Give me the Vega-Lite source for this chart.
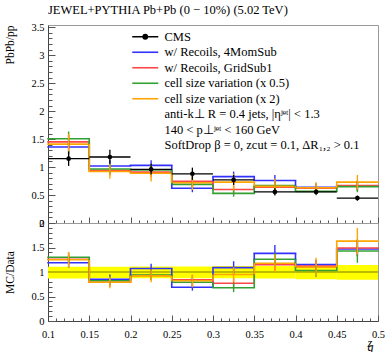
{
  "$schema": "https://vega.github.io/schema/vega-lite/v6.json",
  "padding": {"left": 4, "top": 3, "right": 3, "bottom": 0},
  "spacing": 0,
  "bounds": "flush",
  "config": {
    "view": {"stroke": "#9a9a9a", "strokeWidth": 1},
    "axis": {"labelFont": "Liberation Serif", "labelFontSize": 10.5, "labelColor": "#000", "titleFont": "Liberation Serif", "titleFontSize": 11.5, "titleFontWeight": "normal", "titleColor": "#000", "domainColor": "#444", "tickColor": "#555", "grid": false, "labelOverlap": false, "labelFlush": false},
    "legend": {"labelFont": "Liberation Serif", "labelFontSize": 12.5, "labelColor": "#000", "labelLimit": 400}
  },
  "datasets": {
    "cms": [
      {"s": "CMS", "x0": 0.1, "x1": 0.15, "xc": 0.125, "v": 1.15, "lo": 1.02, "hi": 1.28},
      {"s": "CMS", "x0": 0.15, "x1": 0.2, "xc": 0.175, "v": 1.18, "lo": 1.06, "hi": 1.31},
      {"s": "CMS", "x0": 0.2, "x1": 0.25, "xc": 0.225, "v": 0.96, "lo": 0.87, "hi": 1.06},
      {"s": "CMS", "x0": 0.25, "x1": 0.3, "xc": 0.275, "v": 0.88, "lo": 0.77, "hi": 0.99},
      {"s": "CMS", "x0": 0.3, "x1": 0.35, "xc": 0.325, "v": 0.77, "lo": 0.68, "hi": 0.86},
      {"s": "CMS", "x0": 0.35, "x1": 0.4, "xc": 0.375, "v": 0.555, "lo": 0.49, "hi": 0.62},
      {"s": "CMS", "x0": 0.4, "x1": 0.45, "xc": 0.425, "v": 0.555, "lo": 0.51, "hi": 0.6},
      {"s": "CMS", "x0": 0.45, "x1": 0.5, "xc": 0.475, "v": 0.445, "lo": 0.4, "hi": 0.49}
    ],
    "band": [
      {"x0": 0.1, "x1": 0.15, "lo": 0.865, "hi": 1.105},
      {"x0": 0.15, "x1": 0.2, "lo": 0.87, "hi": 1.105},
      {"x0": 0.2, "x1": 0.25, "lo": 0.87, "hi": 1.11},
      {"x0": 0.25, "x1": 0.3, "lo": 0.87, "hi": 1.11},
      {"x0": 0.3, "x1": 0.35, "lo": 0.87, "hi": 1.12},
      {"x0": 0.35, "x1": 0.4, "lo": 0.865, "hi": 1.125},
      {"x0": 0.4, "x1": 0.45, "lo": 0.85, "hi": 1.12},
      {"x0": 0.45, "x1": 0.5, "lo": 0.84, "hi": 1.145}
    ],
    "mc": [
      {"s": "w/ Recoils, 4MomSub", "x0": 0.1, "x1": 0.15, "xc": 0.125, "v": 1.36, "lo": 1.24, "hi": 1.48},
      {"s": "w/ Recoils, 4MomSub", "x0": 0.15, "x1": 0.2, "xc": 0.175, "v": 1.02, "lo": 0.92, "hi": 1.12},
      {"s": "w/ Recoils, 4MomSub", "x0": 0.2, "x1": 0.25, "xc": 0.225, "v": 1.03, "lo": 0.94, "hi": 1.12},
      {"s": "w/ Recoils, 4MomSub", "x0": 0.25, "x1": 0.3, "xc": 0.275, "v": 0.62, "lo": 0.55, "hi": 0.69},
      {"s": "w/ Recoils, 4MomSub", "x0": 0.3, "x1": 0.35, "xc": 0.325, "v": 0.83, "lo": 0.74, "hi": 0.92},
      {"s": "w/ Recoils, 4MomSub", "x0": 0.35, "x1": 0.4, "xc": 0.375, "v": 0.76, "lo": 0.66, "hi": 0.86},
      {"s": "w/ Recoils, 4MomSub", "x0": 0.4, "x1": 0.45, "xc": 0.425, "v": 0.64, "lo": 0.57, "hi": 0.71},
      {"s": "w/ Recoils, 4MomSub", "x0": 0.45, "x1": 0.5, "xc": 0.475, "v": 0.66, "lo": 0.58, "hi": 0.74},
      {"s": "w/ Recoils, GridSub1", "x0": 0.1, "x1": 0.15, "xc": 0.125, "v": 1.45, "lo": 1.33, "hi": 1.57},
      {"s": "w/ Recoils, GridSub1", "x0": 0.15, "x1": 0.2, "xc": 0.175, "v": 0.94, "lo": 0.85, "hi": 1.03},
      {"s": "w/ Recoils, GridSub1", "x0": 0.2, "x1": 0.25, "xc": 0.225, "v": 0.91, "lo": 0.82, "hi": 1.0},
      {"s": "w/ Recoils, GridSub1", "x0": 0.25, "x1": 0.3, "xc": 0.275, "v": 0.745, "lo": 0.655, "hi": 0.835},
      {"s": "w/ Recoils, GridSub1", "x0": 0.3, "x1": 0.35, "xc": 0.325, "v": 0.6, "lo": 0.53, "hi": 0.67},
      {"s": "w/ Recoils, GridSub1", "x0": 0.35, "x1": 0.4, "xc": 0.375, "v": 0.64, "lo": 0.57, "hi": 0.71},
      {"s": "w/ Recoils, GridSub1", "x0": 0.4, "x1": 0.45, "xc": 0.425, "v": 0.62, "lo": 0.55, "hi": 0.69},
      {"s": "w/ Recoils, GridSub1", "x0": 0.45, "x1": 0.5, "xc": 0.475, "v": 0.67, "lo": 0.58, "hi": 0.76},
      {"s": "cell size variation (x 0.5)", "x0": 0.1, "x1": 0.15, "xc": 0.125, "v": 1.505, "lo": 1.375, "hi": 1.635},
      {"s": "cell size variation (x 0.5)", "x0": 0.15, "x1": 0.2, "xc": 0.175, "v": 0.965, "lo": 0.875, "hi": 1.055},
      {"s": "cell size variation (x 0.5)", "x0": 0.2, "x1": 0.25, "xc": 0.225, "v": 0.95, "lo": 0.86, "hi": 1.04},
      {"s": "cell size variation (x 0.5)", "x0": 0.25, "x1": 0.3, "xc": 0.275, "v": 0.69, "lo": 0.6, "hi": 0.78},
      {"s": "cell size variation (x 0.5)", "x0": 0.3, "x1": 0.35, "xc": 0.325, "v": 0.53, "lo": 0.47, "hi": 0.59},
      {"s": "cell size variation (x 0.5)", "x0": 0.35, "x1": 0.4, "xc": 0.375, "v": 0.67, "lo": 0.59, "hi": 0.75},
      {"s": "cell size variation (x 0.5)", "x0": 0.4, "x1": 0.45, "xc": 0.425, "v": 0.565, "lo": 0.495, "hi": 0.635},
      {"s": "cell size variation (x 0.5)", "x0": 0.45, "x1": 0.5, "xc": 0.475, "v": 0.65, "lo": 0.55, "hi": 0.75},
      {"s": "cell size variation (x 2)", "x0": 0.1, "x1": 0.15, "xc": 0.125, "v": 1.41, "lo": 1.22, "hi": 1.6},
      {"s": "cell size variation (x 2)", "x0": 0.15, "x1": 0.2, "xc": 0.175, "v": 0.92, "lo": 0.79, "hi": 1.05},
      {"s": "cell size variation (x 2)", "x0": 0.2, "x1": 0.25, "xc": 0.225, "v": 0.89, "lo": 0.74, "hi": 1.04},
      {"s": "cell size variation (x 2)", "x0": 0.25, "x1": 0.3, "xc": 0.275, "v": 0.72, "lo": 0.59, "hi": 0.85},
      {"s": "cell size variation (x 2)", "x0": 0.3, "x1": 0.35, "xc": 0.325, "v": 0.73, "lo": 0.58, "hi": 0.88},
      {"s": "cell size variation (x 2)", "x0": 0.35, "x1": 0.4, "xc": 0.375, "v": 0.655, "lo": 0.515, "hi": 0.795},
      {"s": "cell size variation (x 2)", "x0": 0.4, "x1": 0.45, "xc": 0.425, "v": 0.63, "lo": 0.53, "hi": 0.73},
      {"s": "cell size variation (x 2)", "x0": 0.45, "x1": 0.5, "xc": 0.475, "v": 0.73, "lo": 0.6, "hi": 0.86}
    ],
    "ratio": [
      {"s": "w/ Recoils, 4MomSub", "x0": 0.1, "x1": 0.15, "xc": 0.125, "r": 1.19, "lo": 1.09, "hi": 1.29},
      {"s": "w/ Recoils, 4MomSub", "x0": 0.15, "x1": 0.2, "xc": 0.175, "r": 0.85, "lo": 0.75, "hi": 0.95},
      {"s": "w/ Recoils, 4MomSub", "x0": 0.2, "x1": 0.25, "xc": 0.225, "r": 1.07, "lo": 0.97, "hi": 1.17},
      {"s": "w/ Recoils, 4MomSub", "x0": 0.25, "x1": 0.3, "xc": 0.275, "r": 0.69, "lo": 0.62, "hi": 0.76},
      {"s": "w/ Recoils, 4MomSub", "x0": 0.3, "x1": 0.35, "xc": 0.325, "r": 1.09, "lo": 0.96, "hi": 1.22},
      {"s": "w/ Recoils, 4MomSub", "x0": 0.35, "x1": 0.4, "xc": 0.375, "r": 1.38, "lo": 1.21, "hi": 1.55},
      {"s": "w/ Recoils, 4MomSub", "x0": 0.4, "x1": 0.45, "xc": 0.425, "r": 1.15, "lo": 1.05, "hi": 1.25},
      {"s": "w/ Recoils, 4MomSub", "x0": 0.45, "x1": 0.5, "xc": 0.475, "r": 1.47, "lo": 1.32, "hi": 1.62},
      {"s": "w/ Recoils, GridSub1", "x0": 0.1, "x1": 0.15, "xc": 0.125, "r": 1.26, "lo": 1.16, "hi": 1.36},
      {"s": "w/ Recoils, GridSub1", "x0": 0.15, "x1": 0.2, "xc": 0.175, "r": 0.79, "lo": 0.7, "hi": 0.88},
      {"s": "w/ Recoils, GridSub1", "x0": 0.2, "x1": 0.25, "xc": 0.225, "r": 0.93, "lo": 0.83, "hi": 1.03},
      {"s": "w/ Recoils, GridSub1", "x0": 0.25, "x1": 0.3, "xc": 0.275, "r": 0.84, "lo": 0.74, "hi": 0.94},
      {"s": "w/ Recoils, GridSub1", "x0": 0.3, "x1": 0.35, "xc": 0.325, "r": 0.77, "lo": 0.67, "hi": 0.87},
      {"s": "w/ Recoils, GridSub1", "x0": 0.35, "x1": 0.4, "xc": 0.375, "r": 1.15, "lo": 1.03, "hi": 1.27},
      {"s": "w/ Recoils, GridSub1", "x0": 0.4, "x1": 0.45, "xc": 0.425, "r": 1.12, "lo": 1.0, "hi": 1.24},
      {"s": "w/ Recoils, GridSub1", "x0": 0.45, "x1": 0.5, "xc": 0.475, "r": 1.49, "lo": 1.32, "hi": 1.66},
      {"s": "cell size variation (x 0.5)", "x0": 0.1, "x1": 0.15, "xc": 0.125, "r": 1.3, "lo": 1.2, "hi": 1.4},
      {"s": "cell size variation (x 0.5)", "x0": 0.15, "x1": 0.2, "xc": 0.175, "r": 0.82, "lo": 0.73, "hi": 0.91},
      {"s": "cell size variation (x 0.5)", "x0": 0.2, "x1": 0.25, "xc": 0.225, "r": 0.94, "lo": 0.84, "hi": 1.04},
      {"s": "cell size variation (x 0.5)", "x0": 0.25, "x1": 0.3, "xc": 0.275, "r": 0.79, "lo": 0.69, "hi": 0.89},
      {"s": "cell size variation (x 0.5)", "x0": 0.3, "x1": 0.35, "xc": 0.325, "r": 0.68, "lo": 0.59, "hi": 0.77},
      {"s": "cell size variation (x 0.5)", "x0": 0.35, "x1": 0.4, "xc": 0.375, "r": 1.26, "lo": 1.13, "hi": 1.39},
      {"s": "cell size variation (x 0.5)", "x0": 0.4, "x1": 0.45, "xc": 0.425, "r": 1.03, "lo": 0.9, "hi": 1.16},
      {"s": "cell size variation (x 0.5)", "x0": 0.45, "x1": 0.5, "xc": 0.475, "r": 1.43, "lo": 1.19, "hi": 1.67},
      {"s": "cell size variation (x 2)", "x0": 0.1, "x1": 0.15, "xc": 0.125, "r": 1.25, "lo": 1.09, "hi": 1.41},
      {"s": "cell size variation (x 2)", "x0": 0.15, "x1": 0.2, "xc": 0.175, "r": 0.79, "lo": 0.67, "hi": 0.91},
      {"s": "cell size variation (x 2)", "x0": 0.2, "x1": 0.25, "xc": 0.225, "r": 0.92, "lo": 0.79, "hi": 1.05},
      {"s": "cell size variation (x 2)", "x0": 0.25, "x1": 0.3, "xc": 0.275, "r": 0.82, "lo": 0.69, "hi": 0.95},
      {"s": "cell size variation (x 2)", "x0": 0.3, "x1": 0.35, "xc": 0.325, "r": 0.95, "lo": 0.8, "hi": 1.1},
      {"s": "cell size variation (x 2)", "x0": 0.35, "x1": 0.4, "xc": 0.375, "r": 1.18, "lo": 1.0, "hi": 1.36},
      {"s": "cell size variation (x 2)", "x0": 0.4, "x1": 0.45, "xc": 0.425, "r": 1.1, "lo": 0.91, "hi": 1.29},
      {"s": "cell size variation (x 2)", "x0": 0.45, "x1": 0.5, "xc": 0.475, "r": 1.63, "lo": 1.36, "hi": 1.9}
    ]
  },
  "resolve": {"scale": {"color": "independent"}, "legend": {"color": "independent"}},
  "vconcat": [
    {
      "width": 330,
      "height": 198,
      "title": {"text": "JEWEL+PYTHIA Pb+Pb (0 − 10%) (5.02 TeV)", "anchor": "start", "frame": "group", "font": "Liberation Serif", "fontSize": 12.5, "fontWeight": "normal", "color": "#000", "offset": 6},
      "resolve": {"axis": {"x": "independent", "y": "independent"}},
      "layer": [
        {
          "data": {"name": "mc"},
          "mark": {"type": "rule", "strokeWidth": 1.6, "strokeCap": "square"},
          "encoding": {
            "x": {"field": "x0", "type": "quantitative", "scale": {"domain": [0.1, 0.5], "nice": false, "zero": false},
              "axis": {"orient": "bottom", "title": null, "labels": false, "tickSize": -6,
                "values": [0.1,0.15,0.2,0.25,0.3,0.35,0.4,0.45,0.5]}},
            "x2": {"field": "x1"},
            "y": {"field": "v", "type": "quantitative", "scale": {"domain": [0, 3.54], "nice": false},
              "axis": {"orient": "left", "title": "PbPb/pp", "titleAnchor": "end", "titlePadding": 15, "format": "~g", "labelPadding": 11, "tickSize": -7,
                "values": [0,0.5,1,1.5,2,2.5,3,3.5]}},
            "color": {"field": "s", "type": "nominal",
              "scale": {"domain": ["CMS", "w/ Recoils, 4MomSub", "w/ Recoils, GridSub1", "cell size variation (x 0.5)", "cell size variation (x 2)", "anti-k⊥ R = 0.4 jets, |ηʲᵉᵗ| < 1.3", "140 < p⊥ʲᵉᵗ < 160 GeV", "SoftDrop β = 0, zcut = 0.1, ΔR₁,₂ > 0.1"],
                "range": ["#000000", "#3232ff", "#ff4646", "#32a032", "#ffa500", "transparent", "transparent", "transparent"]},
              "legend": {"title": null, "orient": "none", "legendX": 91, "legendY": 5.5, "padding": 0, "rowPadding": 2.5,
                "symbolType": "M-2.6,0H2.6", "symbolSize": 100, "symbolStrokeWidth": 1.6, "labelOffset": 13,
                "encode": {
                  "symbols": {"update": {
                    "shape": [{"test": "datum.value === 'CMS'", "value": "M-2.6,0H2.6M-0.42,0A0.42,0.42 0 1 1 0.42,0A0.42,0.42 0 1 1 -0.42,0Z"}, {"value": "M-2.6,0H2.6"}],
                    "fill": [{"test": "datum.value === 'CMS'", "value": "#000000"}, {"value": "transparent"}]}}}}}
          }
        },
        {
          "data": {"name": "mc"},
          "transform": [
            {"window": [{"op": "lead", "field": "v", "as": "vn"}], "groupby": ["s"], "sort": [{"field": "x0", "order": "ascending"}]},
            {"filter": "datum.vn != null"}
          ],
          "mark": {"type": "rule", "strokeWidth": 1.6},
          "encoding": {
            "x": {"field": "x1", "type": "quantitative",
              "axis": {"orient": "bottom", "title": null, "labels": false, "domain": false, "tickSize": -3,
                "values": [0.11,0.12,0.13,0.14,0.16,0.17,0.18,0.19,0.21,0.22,0.23,0.24,0.26,0.27,0.28,0.29,0.31,0.32,0.33,0.34,0.36,0.37,0.38,0.39,0.41,0.42,0.43,0.44,0.46,0.47,0.48,0.49]}},
            "y": {"field": "v", "type": "quantitative",
              "axis": {"orient": "left", "title": null, "labels": false, "domain": false, "tickSize": -4,
                "values": [0.1,0.2,0.3,0.4,0.6,0.7,0.8,0.9,1.1,1.2,1.3,1.4,1.6,1.7,1.8,1.9,2.1,2.2,2.3,2.4,2.6,2.7,2.8,2.9,3.1,3.2,3.3,3.4]}},
            "y2": {"field": "vn"},
            "color": {"field": "s", "type": "nominal"}
          }
        },
        {
          "data": {"name": "mc"},
          "mark": {"type": "rule", "strokeWidth": 1.4},
          "encoding": {
            "x": {"field": "xc", "type": "quantitative", "axis": null},
            "y": {"field": "lo", "type": "quantitative", "axis": null},
            "y2": {"field": "hi"},
            "color": {"field": "s", "type": "nominal"}
          }
        },
        {
          "data": {"name": "cms"},
          "mark": {"type": "rule", "strokeWidth": 1.3},
          "encoding": {
            "x": {"field": "x0", "type": "quantitative", "axis": null},
            "x2": {"field": "x1"},
            "y": {"field": "v", "type": "quantitative", "axis": null},
            "color": {"field": "s", "type": "nominal"}
          }
        },
        {
          "data": {"name": "cms"},
          "mark": {"type": "rule", "strokeWidth": 1.3},
          "encoding": {
            "x": {"field": "xc", "type": "quantitative", "axis": null},
            "y": {"field": "lo", "type": "quantitative", "axis": null},
            "y2": {"field": "hi"},
            "color": {"field": "s", "type": "nominal"}
          }
        },
        {
          "data": {"name": "cms"},
          "mark": {"type": "point", "filled": true, "size": 22, "opacity": 1},
          "encoding": {
            "x": {"field": "xc", "type": "quantitative", "axis": null},
            "y": {"field": "v", "type": "quantitative", "axis": null},
            "color": {"field": "s", "type": "nominal"}
          }
        }
      ]
    },
    {
      "width": 330,
      "height": 98,
      "resolve": {"axis": {"x": "independent", "y": "independent"}},
      "layer": [
        {
          "data": {"name": "band"},
          "mark": {"type": "rect", "color": "#ffff00"},
          "encoding": {
            "x": {"field": "x0", "type": "quantitative", "scale": {"domain": [0.1, 0.5], "nice": false, "zero": false},
              "axis": {"orient": "bottom", "title": ["z", "  g"], "titleFontStyle": "italic", "titleFontSize": 12, "titleAnchor": "end", "titleAlign": "left", "titleBaseline": "alphabetic", "titleX": 319, "titleY": 25, "titleLineHeight": 4, "format": "~g", "labelPadding": 14, "tickSize": -6,
                "values": [0.1,0.15,0.2,0.25,0.3,0.35,0.4,0.45,0.5]}},
            "x2": {"field": "x1"},
            "y": {"field": "lo", "type": "quantitative", "scale": {"domain": [0, 2], "nice": false},
              "axis": {"orient": "left", "title": "MC/Data", "titlePadding": 15, "format": "~g", "labelPadding": 11, "tickSize": -7,
                "values": [0,0.5,1,1.5,2]}},
            "y2": {"field": "hi"}
          }
        },
        {
          "data": {"name": "cms"},
          "mark": {"type": "rule", "strokeWidth": 1, "color": "#5a5a00", "opacity": 0.8},
          "encoding": {
            "x": {"field": "x0", "type": "quantitative", "axis": null},
            "x2": {"field": "x1"},
            "y": {"datum": 1, "type": "quantitative", "axis": null}
          }
        },
        {
          "data": {"name": "ratio"},
          "mark": {"type": "rule", "strokeWidth": 1.6, "strokeCap": "square"},
          "encoding": {
            "x": {"field": "x0", "type": "quantitative",
              "axis": {"orient": "bottom", "title": null, "labels": false, "domain": false, "tickSize": -3,
                "values": [0.11,0.12,0.13,0.14,0.16,0.17,0.18,0.19,0.21,0.22,0.23,0.24,0.26,0.27,0.28,0.29,0.31,0.32,0.33,0.34,0.36,0.37,0.38,0.39,0.41,0.42,0.43,0.44,0.46,0.47,0.48,0.49]}},
            "x2": {"field": "x1"},
            "y": {"field": "r", "type": "quantitative",
              "axis": {"orient": "left", "title": null, "labels": false, "domain": false, "tickSize": -4,
                "values": [0.1,0.2,0.3,0.4,0.6,0.7,0.8,0.9,1.1,1.2,1.3,1.4,1.6,1.7,1.8,1.9]}},
            "color": {"field": "s", "type": "nominal", "legend": null,
              "scale": {"domain": ["w/ Recoils, 4MomSub", "w/ Recoils, GridSub1", "cell size variation (x 0.5)", "cell size variation (x 2)"], "range": ["#3232ff", "#ff4646", "#32a032", "#ffa500"]}}
          }
        },
        {
          "data": {"name": "ratio"},
          "transform": [
            {"window": [{"op": "lead", "field": "r", "as": "rn"}], "groupby": ["s"], "sort": [{"field": "x0", "order": "ascending"}]},
            {"filter": "datum.rn != null"}
          ],
          "mark": {"type": "rule", "strokeWidth": 1.6},
          "encoding": {
            "x": {"field": "x1", "type": "quantitative", "axis": null},
            "y": {"field": "r", "type": "quantitative", "axis": null},
            "y2": {"field": "rn"},
            "color": {"field": "s", "type": "nominal", "legend": null}
          }
        },
        {
          "data": {"name": "ratio"},
          "mark": {"type": "rule", "strokeWidth": 1.4},
          "encoding": {
            "x": {"field": "xc", "type": "quantitative", "axis": null},
            "y": {"field": "lo", "type": "quantitative", "axis": null},
            "y2": {"field": "hi"},
            "color": {"field": "s", "type": "nominal", "legend": null}
          }
        }
      ]
    }
  ]
}
